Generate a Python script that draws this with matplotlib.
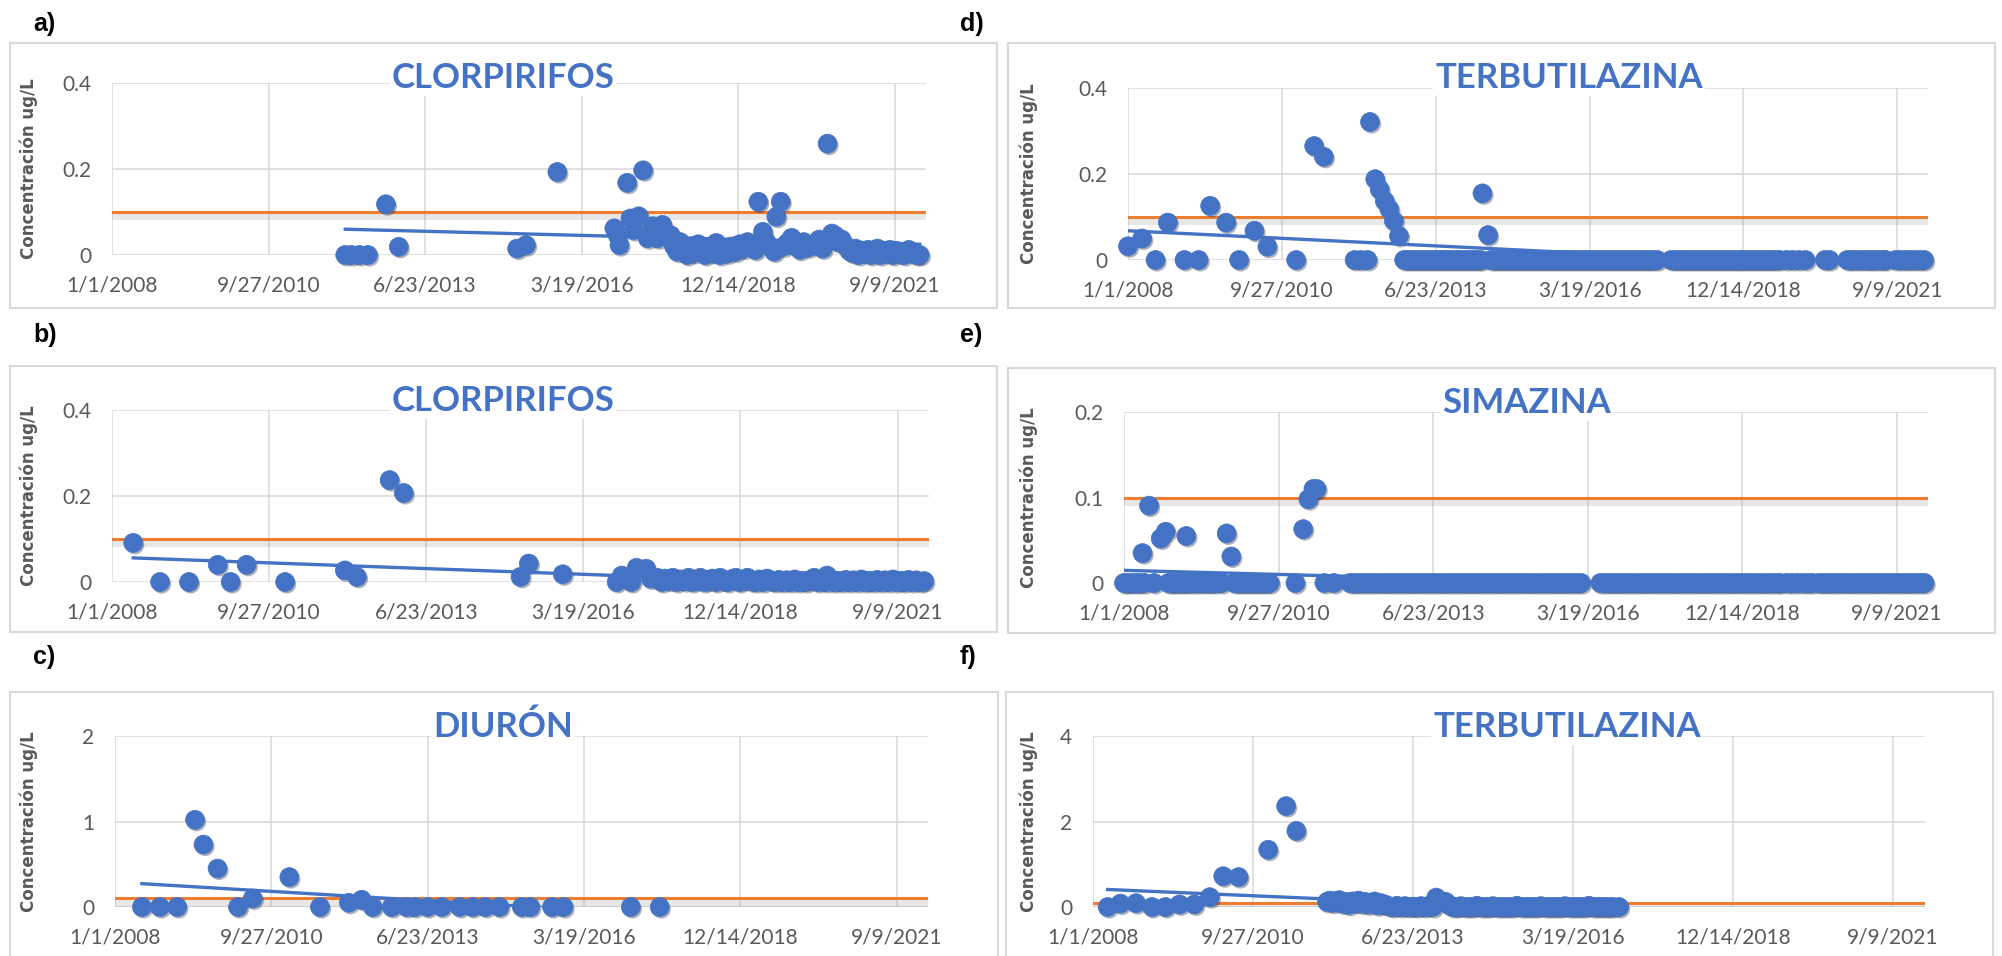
import datetime as dt
import matplotlib.pyplot as plt
import matplotlib.patheffects as pe
from matplotlib.patches import Rectangle
from matplotlib.ticker import FixedLocator, FuncFormatter

BLUE = '#4472C4'
ORANGE = '#ED7D31'
GRID = '#D9D9D9'
TXT = '#595959'
START = dt.date(2008, 1, 1)   # day 0 of the x axis
W, H = 2002, 956

LIMIT = 0.1                     # limit value (orange line), ug/L
X_TICKS = [0, 1000, 2000, 3000, 4000, 5000]
X_MAX = 5200

# ---------------- data: days since 1/1/2008 and concentration (ug/L) -------
# a) CLORPIRIFOS
a_days = [1490, 1530, 1580, 1635, 1750, 1832, 2588, 2645, 2845, 3209, 3230, 3242,
          3291, 3312, 3332, 3365, 3393, 3422, 3455, 3487, 3516, 3569,
          3590, 3610, 3630, 3650, 3675, 3700, 3720, 3745, 3770, 3790, 3815, 3840,
          3860, 3885, 3910, 3935, 3960, 3985, 4010, 4035, 4060, 4085, 4110, 4129,
          4158, 4180, 4205, 4230, 4244, 4272, 4290, 4315, 4342, 4370, 4395, 4420,
          4450, 4480, 4518, 4540, 4571, 4599, 4620, 4640, 4661, 4690, 4710, 4730,
          4750, 4770, 4790, 4810, 4830, 4850, 4870, 4890, 4910, 4930, 4950, 4970,
          4990, 5010, 5030, 5060, 5090, 5110, 5140, 5160]
a_vals = [0, 0, 0, 0, 0.118, 0.019, 0.015, 0.023, 0.193, 0.062, 0.046, 0.023,
          0.168, 0.085, 0.058, 0.090, 0.197, 0.039, 0.067, 0.039, 0.070, 0.046,
          0.020, 0.008, 0.030, 0.012, 0.0, 0.020, 0.005, 0.025, 0.010, 0.0, 0.018, 0.005,
          0.028, 0.0, 0.012, 0.004, 0.020, 0.008, 0.025, 0.015, 0.030, 0.020, 0.012, 0.124,
          0.054, 0.030, 0.020, 0.008, 0.089, 0.124, 0.020, 0.028, 0.040, 0.020, 0.012, 0.030,
          0.018, 0.025, 0.036, 0.015, 0.259, 0.050, 0.045, 0.030, 0.036, 0.020, 0.010, 0.005,
          0.015, 0.0, 0.010, 0.005, 0.012, 0.0, 0.008, 0.015, 0.0, 0.010, 0.005, 0.012,
          0.0, 0.010, 0.005, 0.0, 0.012, 0.005, 0.0, 0.0]
a_nd_days = []
a_trend = [0.060, 0.025]

# b) CLORPIRIFOS
b_days = [135, 673, 857, 1482, 1559, 1767, 1857, 2600, 2653, 2869, 3245, 3339,
          3400, 3429, 3470, 3520, 3545, 3570, 3620, 3645, 3670, 3720, 3745, 3795,
          3820, 3870, 3895, 3945, 3970, 4020, 4045, 4070, 4120, 4170, 4195, 4245,
          4295, 4345, 4395, 4445, 4470, 4520, 4551, 4570, 4620, 4670, 4720, 4770,
          4820, 4870, 4920, 4970, 5020, 5070, 5120, 5170]
b_vals = [0.091, 0.040, 0.040, 0.027, 0.012, 0.237, 0.207, 0.012, 0.043, 0.018, 0.015, 0.033,
          0.031, 0.008, 0.010, 0.008, 0.003, 0.010, 0.006, 0.002, 0.010, 0.005, 0.010, 0.004,
          0.008, 0.010, 0.003, 0.007, 0.010, 0.005, 0.010, 0.002, 0.006, 0.008, 0.003, 0.005,
          0.004, 0.006, 0.003, 0.005, 0.010, 0.004, 0.015, 0.006, 0.003, 0.005, 0.004, 0.006,
          0.003, 0.005, 0.004, 0.006, 0.003, 0.005, 0.004, 0.002]
b_nd_days = [306, 490, 755, 1102, 3212, 3306, 3500, 3595, 3695, 3770, 3845, 3920,
             3995, 4095, 4145, 4220, 4270, 4320, 4370, 4420, 4495, 4545, 4595, 4645,
             4695, 4745, 4795, 4845, 4895, 4945, 4995, 5045, 5095, 5145]
b_trend = [0.056, -0.011]

# c) DIURON
c_days = [512, 566, 656, 881, 1115, 1496, 1578]
c_vals = [1.02, 0.73, 0.45, 0.10, 0.35, 0.05, 0.085]
c_nd_days = [172, 287, 398, 787, 1311, 1648, 1770, 1865, 1918, 2000, 2090, 2205,
             2287, 2369, 2459, 2602, 2656, 2795, 2869, 3299, 3484]
c_trend = [0.273, -0.088]

# d) TERBUTILAZINA
d_days = [0, 92, 259, 534, 638, 822, 906, 1210, 1273, 1573, 1607, 1636, 1669,
          1699, 1728, 1761, 2304, 2341]
d_vals = [0.032, 0.050, 0.087, 0.126, 0.087, 0.068, 0.031, 0.265, 0.240, 0.321,
          0.188, 0.164, 0.137, 0.118, 0.091, 0.056, 0.155, 0.058]
d_nd_days = [179, 367, 459, 722, 1093, 1473, 1515, 1557,
             1795, 1820, 1845, 1870, 1895, 1920, 1945, 1970, 1995, 2020, 2045, 2070,
             2095, 2120, 2145, 2170, 2195, 2220, 2245, 2270, 2295,
             2360, 2385, 2410, 2435, 2460, 2485, 2510, 2535, 2560, 2585, 2610, 2635,
             2660, 2685, 2710, 2735, 2760, 2785, 2810, 2835, 2860, 2885, 2910, 2935,
             2960, 2985, 3010, 3035, 3060, 3085, 3110, 3135, 3160, 3185, 3210, 3235,
             3260, 3285, 3310, 3335, 3360, 3385, 3410, 3440,
             3530, 3555, 3580, 3605, 3630, 3655, 3680, 3705, 3730, 3755, 3780, 3805,
             3830, 3855, 3880, 3905, 3930, 3955, 3980, 4005, 4030, 4055, 4080, 4105,
             4130, 4155, 4180, 4205, 4235,
             4280, 4320, 4360, 4404, 4530, 4560, 4675, 4700, 4730, 4758, 4790, 4815,
             4841, 4870, 4900, 4925, 4990, 5020, 5050, 5080, 5113, 5145, 5175]
d_trend = [0.068, -0.023]

# e) SIMAZINA
e_days = [120, 162, 237, 270, 403, 664, 694, 1159, 1192, 1225, 1246]
e_vals = [0.035, 0.0905, 0.052, 0.060, 0.055, 0.058, 0.031, 0.063, 0.098, 0.110, 0.110]
e_nd_days = [0, 20, 45, 75, 100, 133, 195, 287, 310, 335, 360, 385, 410, 440, 470,
             500, 530, 560, 590, 631, 714, 740, 765, 790, 815, 840, 865, 890, 915,
             943, 1109, 1296, 1358,
             1462, 1490, 1520, 1550, 1580, 1610, 1640, 1670, 1700, 1730, 1760, 1790,
             1820, 1850, 1880, 1910, 1940, 1970, 2000, 2030, 2060, 2090, 2120, 2150,
             2180, 2210, 2240, 2270, 2300, 2330, 2360, 2390, 2420, 2450, 2480, 2510,
             2540, 2570, 2600, 2630, 2660, 2690, 2720, 2750, 2780, 2810, 2840, 2870,
             2900, 2930, 2957,
             3081, 3110, 3140, 3170, 3200, 3230, 3260, 3290, 3320, 3350, 3380, 3410,
             3440, 3470, 3500, 3530, 3560, 3590, 3620, 3650, 3680, 3710, 3740, 3770,
             3800, 3830, 3860, 3890, 3920, 3950, 3980, 4010, 4040, 4070, 4100, 4130,
             4160, 4190, 4220, 4244,
             4286, 4320, 4355, 4390, 4420, 4452,
             4493, 4520, 4550, 4580, 4610, 4640, 4670, 4700, 4730, 4760, 4790, 4820,
             4850, 4880, 4910, 4940, 4970, 5000, 5030, 5060, 5090, 5120, 5150, 5178]
e_trend = [0.0148, -0.0100]

# f) TERBUTILAZINA
f_days = [172, 269, 541, 634, 730, 814, 910, 1095, 1207, 1271, 1463, 1480, 1500,
          1520, 1540, 1560, 1580, 1600, 1620, 1640, 1660, 1680, 1700, 1720, 1740,
          1760, 1780, 1800, 1824, 1850, 1900, 1950, 2000, 2050, 2100, 2145, 2170,
          2205, 2225, 2300, 2400, 2500, 2650, 2800, 2950, 3100]
f_vals = [0.08, 0.09, 0.06, 0.06, 0.23, 0.72, 0.70, 1.34, 2.36, 1.78, 0.12, 0.15, 0.10,
          0.14, 0.16, 0.08, 0.12, 0.05, 0.13, 0.10, 0.15, 0.08, 0.12, 0.06, 0.10,
          0.13, 0.04, 0.09, 0.06, 0.02, 0.03, 0.02, 0.01, 0.02, 0.03, 0.22, 0.15,
          0.12, 0.05, 0.02, 0.03, 0.02, 0.03, 0.02, 0.02, 0.03]
f_nd_days = [92, 369, 453, 1875, 1925, 1975, 2025, 2075, 2125,
             2250, 2275, 2325, 2350, 2375, 2425, 2450, 2475, 2525, 2550, 2575, 2600,
             2625, 2675, 2700, 2725, 2750, 2775, 2825, 2850, 2875, 2900, 2925, 2975,
             3000, 3025, 3050, 3075, 3125, 3150, 3175, 3200, 3225, 3250, 3288]
f_trend = [0.41, -0.108]

panels = [
    ('a)', 'CLORPIRIFOS', a_days, a_vals, a_nd_days, a_trend, [0, 0.2, 0.4]),
    ('b)', 'CLORPIRIFOS', b_days, b_vals, b_nd_days, b_trend, [0, 0.2, 0.4]),
    ('c)', 'DIURÓN', c_days, c_vals, c_nd_days, c_trend, [0, 1, 2]),
    ('d)', 'TERBUTILAZINA', d_days, d_vals, d_nd_days, d_trend, [0, 0.2, 0.4]),
    ('e)', 'SIMAZINA', e_days, e_vals, e_nd_days, e_trend, [0, 0.1, 0.2]),
    ('f)', 'TERBUTILAZINA', f_days, f_vals, f_nd_days, f_trend, [0, 2, 4]),
]

# ---------------- layout in pixels (left, right, top, bottom) ----------------
plot_px = [(112, 926, 83, 255), (112, 929, 410, 582), (115, 928, 736, 907),
           (1128, 1928, 88, 260), (1124, 1928, 412, 583), (1093, 1925, 736, 907)]
box_px = [(10, 997, 43, 308), (10, 997, 366, 632), (10, 998, 692, 1000),
          (1008, 1995, 43, 308), (1008, 1995, 368, 633), (1006, 1993, 692, 1000)]
title_px = [(503, 88), (503, 411), (503, 737), (1569, 88), (1527, 413), (1567, 737)]
letter_px = [(33, 24), (33, 335), (33, 657), (960, 24), (960, 335), (960, 657)]
ylabel_x = [29, 29, 29, 1029, 1029, 1029]


def fmt_date(x, pos):
    d = START + dt.timedelta(days=int(round(x)))
    return f'{d.month}/{d.day}/{d.year}'


fig = plt.figure(figsize=(W / 100, H / 100), dpi=100)

for i, (letter, title, days, vals, nd_days, trend, yticks) in enumerate(panels):
    l, r, t, b = plot_px[i]
    ax = fig.add_axes([l / W, 1 - b / H, (r - l) / W, (b - t) / H])
    ax.set_xlim(0, X_MAX)
    ax.set_ylim(0, yticks[-1])
    for s in ax.spines.values():
        s.set_visible(False)
    ax.xaxis.set_major_locator(FixedLocator(X_TICKS))
    ax.xaxis.set_major_formatter(FuncFormatter(fmt_date))
    ax.yaxis.set_major_locator(FixedLocator(yticks))
    ax.yaxis.set_major_formatter(FuncFormatter(lambda v, p: f'{v:g}'))
    ax.grid(True, color=GRID, lw=1.1)
    ax.set_axisbelow(True)
    ax.tick_params(length=0, labelsize=15, labelcolor=TXT, pad=15)
    for lab in ax.get_xticklabels() + ax.get_yticklabels():
        lab.set_fontfamily('Lato')

    # limit line with a soft shadow
    ax.axhline(LIMIT, color=ORANGE, lw=2.2, zorder=2,
               path_effects=[pe.SimpleLineShadow(offset=(0, -3), shadow_color='#7f7f7f',
                                                 alpha=0.18, linewidth=5), pe.Normal()])

    all_days = list(days) + list(nd_days)
    all_vals = list(vals) + [0] * len(nd_days)
    ax.scatter(all_days, all_vals, s=185, color=BLUE, edgecolors=BLUE, lw=0.5,
               zorder=3, clip_on=False,
               path_effects=[pe.SimplePatchShadow(offset=(1.2, -1.5), alpha=0.35),
                             pe.Normal()])

    ax.plot([min(all_days), max(all_days)], trend, color=BLUE, lw=2.4, zorder=4)

    # chart area border
    x0, x1, y0, y1 = box_px[i]
    fig.patches.append(Rectangle((x0 / W, 1 - y1 / H), (x1 - x0) / W, (y1 - y0) / H,
                                 transform=fig.transFigure, fill=False, ec=GRID, lw=1.5))

    tx, ty = title_px[i]
    fig.text(tx / W, 1 - ty / H, title, ha='center', va='baseline', fontsize=25,
             fontweight='bold', color=BLUE, family='Lato',
             bbox=dict(boxstyle='square,pad=0.05', fc='white', ec='none'))

    lx, ly = letter_px[i]
    fig.text(lx / W, 1 - ly / H, letter, ha='left', va='center', fontsize=18,
             fontweight='bold', color='black', family='Liberation Sans')

    fig.text(ylabel_x[i] / W, 1 - (t + b) / 2 / H, 'Concentración ug/L', rotation=90,
             ha='center', va='center', fontsize=12, fontweight='bold', color=TXT,
             family='DejaVu Sans')

fig.savefig('out.png', dpi=100)
